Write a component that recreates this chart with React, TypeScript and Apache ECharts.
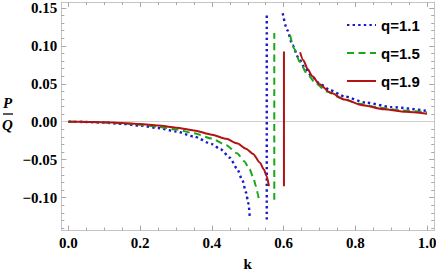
import React, { useEffect, useRef } from "react";
import * as echarts from "echarts";

const kTicks = [0, 0.2, 0.4, 0.6, 0.8, 1.0];
const kMinorTicks = [0.05, 0.1, 0.15, 0.25, 0.3, 0.35, 0.45, 0.5, 0.55, 0.65, 0.7, 0.75, 0.85, 0.9, 0.95];
const yTicks = [-0.1, -0.05, 0, 0.05, 0.1, 0.15];
const yMinorTicks = [-0.14, -0.13, -0.12, -0.11, -0.09, -0.08, -0.07, -0.06, -0.04, -0.03, -0.02, -0.01, 0.01, 0.02, 0.03, 0.04, 0.06, 0.07, 0.08, 0.09, 0.11, 0.12, 0.13, 0.14];

const seriesNames = ["q=1.1", "q=1.5", "q=1.9"];

// q = 1.1 : left branch, vertical jump, right branch
const q11Left = [
  [0, 0], [0.05, -0.0003], [0.1, -0.0012], [0.15, -0.0028], [0.2, -0.005], [0.25, -0.0083],
  [0.3, -0.0128], [0.35, -0.0195], [0.4, -0.0295], [0.425, -0.0365], [0.45, -0.0475],
  [0.47, -0.0615], [0.485, -0.077], [0.495, -0.093], [0.502, -0.108], [0.506, -0.128],
];
const q11Jump = [[0.553, -0.129], [0.553, 0.143]];
const q11Right = [
  [0.5975, 0.143], [0.61, 0.121], [0.625, 0.101], [0.64, 0.0855], [0.66, 0.0705],
  [0.68, 0.059], [0.7, 0.0505], [0.73, 0.0415], [0.77, 0.0333], [0.83, 0.0252],
  [0.9, 0.0193], [1.0, 0.0142],
];

// q = 1.5
const q15Left = [
  [0, 0], [0.05, -0.0002], [0.1, -0.0009], [0.15, -0.0021], [0.2, -0.004], [0.25, -0.0066],
  [0.3, -0.0102], [0.35, -0.0152], [0.4, -0.0222], [0.44, -0.031], [0.47, -0.0415],
  [0.49, -0.052], [0.505, -0.0625], [0.515, -0.073], [0.523, -0.085], [0.528, -0.095],
  [0.531, -0.103],
];
const q15Jump = [[0.574, -0.103], [0.574, 0.117]];
const q15Right = [
  [0.618, 0.1145], [0.63, 0.096], [0.645, 0.079], [0.665, 0.0635], [0.69, 0.0505],
  [0.72, 0.04], [0.76, 0.031], [0.81, 0.0238], [0.87, 0.0185], [0.93, 0.015], [1.0, 0.0125],
];

// q = 1.9
const q19Left = [
  [0, 0], [0.05, -0.0002], [0.1, -0.0007], [0.15, -0.0016], [0.2, -0.003], [0.25, -0.005],
  [0.3, -0.0078], [0.35, -0.0115], [0.4, -0.017], [0.44, -0.0225], [0.47, -0.0285],
  [0.495, -0.0355], [0.515, -0.0425], [0.534, -0.054], [0.545, -0.063], [0.553, -0.072],
  [0.559, -0.085],
];
const q19Jump = [[0.601, -0.085], [0.601, 0.0925]];
const q19Right = [
  [0.646, 0.0917], [0.655, 0.081], [0.667, 0.0695], [0.68, 0.06], [0.7, 0.0495],
  [0.73, 0.0385], [0.77, 0.0293], [0.82, 0.0218], [0.88, 0.0165], [0.94, 0.0131], [1.0, 0.0105],
];

const colors = ["#1818c8", "#1aa81a", "#b01414"];
const dashes = [[2.4, 3.2], [7, 4.5], null];
const widths = [2.4, 2, 2];

const frameColor = "#c4c4c4";
const tickColor = "#a8a8a8";
const serif = "'Liberation Serif', 'Times New Roman', serif";
const sans = "'Liberation Sans', Arial, sans-serif";

const joinBranches = (left: number[][], jump: number[][], right: number[][]) => [
  ...left,
  [left[left.length - 1][0], "-"],
  ...jump,
  [jump[0][0], "-"],
  ...right,
];

export default function App() {
  const ref = useRef<HTMLDivElement>(null);
  useEffect(() => {
    if (!ref.current) return;
    const chart = echarts.init(ref.current, null, { renderer: "svg" });
    const xRange = { min: -0.02, max: 1.02 };
    const yRange = { min: -0.1434, max: 0.1579 };
    const fmtX = (v: number) => v.toFixed(1);
    const fmtY = (v: number) => (v < -1e-9 ? "\u2212" : "") + Math.abs(v).toFixed(2);
    const labelStyle = {
      fontFamily: serif,
      fontWeight: "bold" as const,
      fontSize: 15,
      color: "#000",
    };
    const mkX = (position: string, values: number[], len: number, labels: boolean, line: boolean, extra: any = {}) => ({
      type: "value",
      ...xRange,
      position,
      axisLine: { show: line, onZero: false, lineStyle: { color: frameColor, width: 1 } },
      axisTick: { show: true, inside: true, length: len, customValues: values, lineStyle: { color: tickColor, width: 1 } },
      axisLabel: labels
        ? { show: true, customValues: values, formatter: fmtX, margin: 5, ...labelStyle }
        : { show: false },
      splitLine: { show: false },
      ...extra,
    });
    const mkY = (position: string, values: number[], len: number, labels: boolean, line: boolean) => ({
      type: "value",
      ...yRange,
      position,
      axisLine: { show: line, onZero: false, lineStyle: { color: frameColor, width: 1 } },
      axisTick: { show: true, inside: true, length: len, customValues: values, lineStyle: { color: tickColor, width: 1 } },
      axisLabel: labels
        ? { show: true, customValues: values, formatter: fmtY, margin: 4, ...labelStyle }
        : { show: false },
      splitLine: { show: false },
    });
    const branchData = [
      joinBranches(q11Left, q11Jump, q11Right),
      joinBranches(q15Left, q15Jump, q15Right),
      joinBranches(q19Left, q19Jump, q19Right),
    ];
    chart.setOption({
      animation: false,
      grid: { left: 61.3, right: 1.8, top: 2, bottom: 43.5, containLabel: false, outerBoundsMode: "none" },
      xAxis: [
        mkX("bottom", kTicks, 5, true, true, {
          name: "k",
          nameLocation: "middle",
          nameGap: 26,
          nameTextStyle: { ...labelStyle, fontSize: 15 },
        }),
        mkX("bottom", kMinorTicks, 3, false, false),
        mkX("top", kTicks, 5, false, true),
        mkX("top", kMinorTicks, 3, false, false),
      ],
      yAxis: [
        mkY("left", yTicks, 5, true, true),
        mkY("left", yMinorTicks, 3, false, false),
        mkY("right", yTicks, 5, false, true),
        mkY("right", yMinorTicks, 3, false, false),
      ],
      legend: {
        orient: "vertical",
        left: 341,
        top: 12,
        itemWidth: 29,
        itemHeight: 16,
        itemGap: 12,
        itemStyle: { opacity: 0, borderWidth: 0 },
        textStyle: { fontFamily: sans, fontWeight: "bold", fontSize: 15, color: "#000", lineHeight: 16 },
        data: seriesNames,
      },
      series: seriesNames.map((name, i) => ({
        name,
        type: "line",
        xAxisIndex: 0,
        yAxisIndex: 0,
        data: branchData[i],
        symbol: "none",
        showSymbol: false,
        connectNulls: false,
        smooth: 0.25,
        smoothMonotone: "x",
        z: 3 + i,
        lineStyle: {
          color: colors[i],
          width: widths[i],
          type: dashes[i] ? (dashes[i] as number[]) : "solid",
        },
        itemStyle: { color: colors[i] },
        markLine:
          i === 0
            ? {
                silent: true,
                symbol: ["none", "none"],
                label: { show: false },
                lineStyle: { color: "#cfcfcf", type: "solid", width: 1 },
                z: 1,
                data: [{ yAxis: 0 }],
              }
            : undefined,
      })),
      graphic: [
        {
          type: "text",
          left: 3,
          top: 95,
          style: { text: "P", font: `italic bold 15px ${serif}`, fill: "#000" },
        },
        {
          type: "line",
          shape: { x1: 3, y1: 114, x2: 13, y2: 114 },
          style: { stroke: "#000", lineWidth: 1.3 },
        },
        {
          type: "text",
          left: 2,
          top: 117,
          style: { text: "Q", font: `italic bold 15px ${serif}`, fill: "#000" },
        },
      ],
    });
    return () => chart.dispose();
  }, []);
  return (
    <div
      ref={ref}
      style={{ position: "fixed", left: 0, top: 0, width: 436, height: 274, background: "#fff" }}
    />
  );
}
